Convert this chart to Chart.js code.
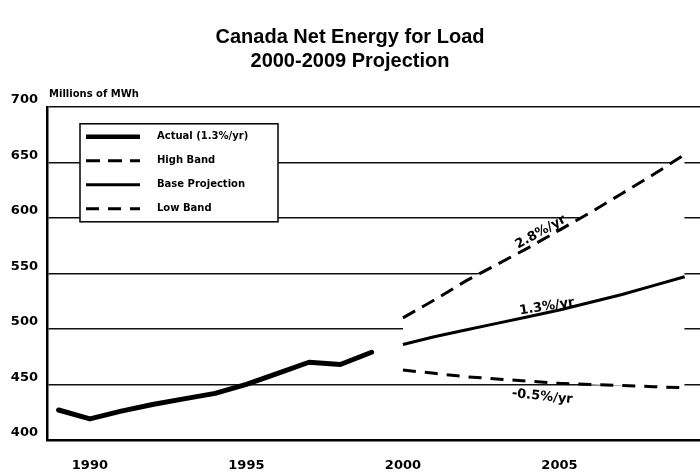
<!DOCTYPE html>
<html>
<head>
<meta charset="utf-8">
<script src="https://cdn.jsdelivr.net/npm/chart.js@4/dist/chart.umd.min.js"></script>
<style>
  html, body { margin: 0; padding: 0; background: #fff; }
  #wrap { width: 700px; height: 474px; position: relative; overflow: hidden; }
</style>
</head>
<body>
<div id="wrap"><canvas id="energyChart"></canvas></div>
<script>
// Chart data (millions of MWh)
const actualYears = [1989, 1990, 1991, 1992, 1993, 1994, 1995, 1996, 1997, 1998, 1999];
const actualValues = [427, 419, 426, 432, 437, 442, 450, 460, 470, 468, 479];

const projYears = [2000, 2001, 2002, 2003, 2004, 2005, 2006, 2007, 2008, 2009];
const highValues = [510, 526, 543, 558, 573, 589, 605, 622, 639, 657];
const baseValues = [486, 493, 499, 505, 511, 517, 524, 531, 539, 547];
const lowValues = [463, 460, 457, 455, 453, 451, 450, 449, 448, 447];

const xTicks = [1990, 1995, 2000, 2005];
const yTicks = [400, 450, 500, 550, 600, 650, 700];

const seriesLabels = ['Actual (1.3%/yr)', 'High Band', 'Base Projection', 'Low Band'];
const rateLabels = ['2.8%/yr', '1.3%/yr', '-0.5%/yr'];
const titleLines = ['Canada Net Energy for Load', '2000-2009 Projection'];
const yAxisTitle = 'Millions of MWh';

// Turn year/value arrays into points for a linear x axis
function toPoints(years, values) {
    return years.map((yr, i) => ({ x: yr, y: values[i] }));
}

// Legend box drawn inside the plot, covering the grid lines
const boxLegend = {
    id: 'boxLegend',
    afterDatasetsDraw(chart) {
        const ctx = chart.ctx;
        const area = chart.chartArea;
        const x0 = area.left + 33, y0 = area.top + 17, w = 198, h = 98;
        ctx.save();
        ctx.fillStyle = '#fff';
        ctx.fillRect(x0, y0, w, h);
        ctx.strokeStyle = '#000';
        ctx.lineWidth = 1.5;
        ctx.strokeRect(x0, y0, w, h);
        ctx.font = 'bold 10px "DejaVu Sans"';
        ctx.textBaseline = 'middle';
        chart.data.datasets.forEach((ds, i) => {
            const y = y0 + 13 + i * 24;
            ctx.beginPath();
            ctx.lineWidth = i === 0 ? 4.5 : 3;
            ctx.setLineDash(ds.borderDash || []);
            ctx.moveTo(x0 + 6, y);
            ctx.lineTo(x0 + 60, y);
            ctx.stroke();
            ctx.setLineDash([]);
            ctx.fillStyle = '#000';
            ctx.fillText(ds.label, x0 + 77, y);
        });
        ctx.restore();
    }
};

// Axis title and growth-rate notes placed through the chart scales
const notes = {
    id: 'notes',
    afterDatasetsDraw(chart) {
        const ctx = chart.ctx;
        const xs = chart.scales.x, ys = chart.scales.y;
        const area = chart.chartArea;
        ctx.save();
        ctx.fillStyle = '#000';
        ctx.font = 'bold 10px "DejaVu Sans"';
        ctx.textBaseline = 'middle';
        ctx.fillText(yAxisTitle, area.left + 2, area.top - 12);

        const spots = [
            { yr: 2004.4, v: 587, rot: -29 },
            { yr: 2004.6, v: 520, rot: -9 },
            { yr: 2004.45, v: 439, rot: 6 }
        ];
        ctx.font = 'bold 13px "DejaVu Sans"';
        ctx.textAlign = 'center';
        spots.forEach((s, i) => {
            ctx.save();
            ctx.translate(xs.getPixelForValue(s.yr), ys.getPixelForValue(s.v));
            ctx.rotate(s.rot * Math.PI / 180);
            ctx.fillText(rateLabels[i], 0, 0);
            ctx.restore();
        });
        ctx.restore();
    }
};

function renderChart() {
    const ctx = document.getElementById('energyChart').getContext('2d');

    new Chart(ctx, {
        type: 'line',
        data: {
            datasets: [
                {
                    label: seriesLabels[0],
                    data: toPoints(actualYears, actualValues),
                    borderColor: '#000',
                    borderWidth: 5,
                    borderCapStyle: 'round',
                    borderJoinStyle: 'round',
                    pointRadius: 0,
                    fill: false
                },
                {
                    label: seriesLabels[1],
                    data: toPoints(projYears, highValues),
                    borderColor: '#000',
                    borderWidth: 3,
                    borderDash: [14, 8],
                    pointRadius: 0,
                    fill: 3,
                    backgroundColor: '#fff'
                },
                {
                    label: seriesLabels[2],
                    data: toPoints(projYears, baseValues),
                    borderColor: '#000',
                    borderWidth: 3,
                    pointRadius: 0,
                    fill: false
                },
                {
                    label: seriesLabels[3],
                    data: toPoints(projYears, lowValues),
                    borderColor: '#000',
                    borderWidth: 3,
                    borderDash: [13, 9],
                    pointRadius: 0,
                    fill: false
                }
            ]
        },
        options: {
            responsive: true,
            maintainAspectRatio: false,
            animation: false,
            devicePixelRatio: 1,
            layout: { padding: { left: 0, right: 0, top: 0, bottom: 3 } },
            plugins: {
                legend: { display: false },
                tooltip: { enabled: false },
                filler: { drawTime: 'beforeDatasetsDraw' },
                title: {
                    display: true,
                    text: titleLines,
                    color: '#000',
                    font: { family: '"Liberation Sans", Arial, sans-serif', size: 20, weight: 'bold', lineHeight: 1.22 },
                    padding: { top: 25, bottom: 33 }
                }
            },
            scales: {
                x: {
                    type: 'linear',
                    min: 1988.63,
                    max: 2009.49,
                    afterBuildTicks: (scale) => {
                        scale.ticks = xTicks.map(v => ({ value: v }));
                    },
                    afterFit: (scale) => { scale.height = 31; },
                    grid: { display: false, drawTicks: false },
                    border: { display: true, color: '#000', width: 2.5 },
                    ticks: {
                        color: '#000',
                        padding: 18,
                        maxRotation: 0,
                        font: { family: '"DejaVu Sans"', size: 13, weight: 'bold' },
                        callback: (v) => String(v)
                    }
                },
                y: {
                    min: 400,
                    max: 700,
                    afterBuildTicks: (scale) => {
                        scale.ticks = yTicks.map(v => ({ value: v }));
                    },
                    afterFit: (scale) => { scale.width = 47; },
                    grid: { color: '#111', lineWidth: 1.5, drawTicks: false },
                    border: { display: true, color: '#000', width: 2.5 },
                    ticks: {
                        color: '#000',
                        padding: 9,
                        labelOffset: -7,
                        font: { family: '"DejaVu Sans"', size: 13, weight: 'bold' }
                    }
                }
            }
        },
        plugins: [boxLegend, notes]
    });
}

renderChart();
</script>
</body>
</html>
